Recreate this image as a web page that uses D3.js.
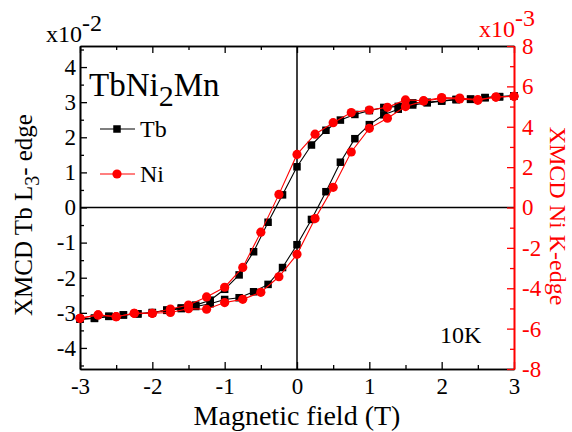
<!DOCTYPE html>
<html>
<head>
<meta charset="utf-8">
<script src="https://cdn.jsdelivr.net/npm/d3@7"></script>
<style>
  html, body { margin: 0; padding: 0; background: #fff; }
  svg { display: block; font-family: "Liberation Serif", "Times New Roman", serif; }
</style>
</head>
<body>
<svg id="chart" width="572" height="432"></svg>
<script>
// Applied field (T) for each sample
const tbField = [-3.0,-2.8,-2.6,-2.4,-2.2,-2.0,-1.8,-1.6,-1.4,-1.2,-1.0,-0.8,-0.6,-0.4,-0.2,0.0,0.2,0.4,0.6,0.8,1.0,1.2,1.4,1.6,1.8,2.0,2.2,2.4,2.6,2.8,3.0];
// Tb L3-edge XMCD (x10^-2), field sweeping down and up
const tbDescending = [-3.18,-3.15,-3.10,-3.06,-3.03,-2.99,-2.92,-2.86,-2.78,-2.64,-2.33,-1.92,-1.26,-0.42,0.36,1.16,1.78,2.20,2.49,2.65,2.76,2.85,2.88,2.98,3.00,3.04,3.08,3.09,3.13,3.16,3.18];
const tbAscending  = [-3.18,-3.16,-3.10,-3.06,-3.03,-3.00,-2.93,-2.88,-2.82,-2.74,-2.62,-2.57,-2.40,-2.19,-1.71,-1.06,-0.34,0.45,1.29,1.96,2.36,2.64,2.80,2.92,2.98,3.03,3.07,3.08,3.13,3.15,3.18];

const niField = [-3.0,-2.75,-2.5,-2.25,-2.0,-1.75,-1.5,-1.25,-1.0,-0.75,-0.5,-0.25,0.0,0.25,0.5,0.75,1.0,1.25,1.5,1.75,2.0,2.25,2.5,2.75,3.0];
// Ni K-edge XMCD (x10^-3), field sweeping down and up
const niDescending = [-5.49,-5.32,-5.41,-5.24,-5.24,-5.03,-4.83,-4.43,-3.95,-2.97,-1.22,0.65,2.63,3.63,4.20,4.70,4.83,4.96,5.33,5.29,5.45,5.42,5.35,5.47,5.51];
const niAscending  = [-5.49,-5.32,-5.41,-5.24,-5.24,-5.20,-5.01,-5.04,-4.71,-4.55,-4.20,-3.43,-2.32,-0.55,1.00,2.75,3.92,4.42,5.00,5.27,5.40,5.38,5.31,5.47,5.51];

const xMajor = [-3,-2,-1,0,1,2,3];
const xMinor = [-2.5,-1.5,-0.5,0.5,1.5,2.5];
const yLeftMajor = [-4,-3,-2,-1,0,1,2,3,4];
const yLeftMinor = [-4.5,-3.5,-2.5,-1.5,-0.5,0.5,1.5,2.5,3.5,4.5];
const yRightMajor = [-8,-6,-4,-2,0,2,4,6,8];
const yRightMinor = [-7,-5,-3,-1,1,3,5,7];

const RED = "#ff0000";
const W = 572, H = 432;
const m = { left: 80, right: 58, top: 46, bottom: 63 };

const svg = d3.select("#chart");
const x = d3.scaleLinear().domain([-3, 3]).range([m.left, W - m.right]);
const yL = d3.scaleLinear().domain([-4.6, 4.6]).range([H - m.bottom, m.top]);
const yR = d3.scaleLinear().domain([-8, 8]).range([H - m.bottom, m.top]);

const fmt = d => String(d);
const tickFont = 23;

function styleAxis(g, color) {
  g.selectAll(".domain").attr("stroke", color).attr("stroke-width", 1.6);
  g.selectAll(".tick line").attr("stroke", color).attr("stroke-width", 1.3);
  g.selectAll(".tick text").attr("fill", color)
    .style("font-family", "Liberation Serif").style("font-size", tickFont + "px");
}

// zero reference lines
svg.append("line").attr("x1", x(-3)).attr("x2", x(3)).attr("y1", yL(0)).attr("y2", yL(0))
  .attr("stroke", "#000").attr("stroke-width", 1.5);
svg.append("line").attr("x1", x(0)).attr("x2", x(0)).attr("y1", yL(-4.6)).attr("y2", yL(4.6))
  .attr("stroke", "#000").attr("stroke-width", 1.5);

// bottom axis
const gB = svg.append("g").attr("transform", `translate(0,${H - m.bottom})`);
gB.call(d3.axisBottom(x).tickValues(xMajor).tickFormat(fmt).tickSizeInner(-7).tickSizeOuter(0).tickPadding(9));
styleAxis(gB, "#000");
const gBm = svg.append("g").attr("transform", `translate(0,${H - m.bottom})`);
gBm.call(d3.axisBottom(x).tickValues(xMinor).tickFormat("").tickSizeInner(-4).tickSizeOuter(0));
styleAxis(gBm, "#000");

// top axis
const gT = svg.append("g").attr("transform", `translate(0,${m.top})`);
gT.call(d3.axisTop(x).tickValues(xMajor).tickFormat("").tickSizeInner(-7).tickSizeOuter(0));
styleAxis(gT, "#000");
const gTm = svg.append("g").attr("transform", `translate(0,${m.top})`);
gTm.call(d3.axisTop(x).tickValues(xMinor).tickFormat("").tickSizeInner(-4).tickSizeOuter(0));
styleAxis(gTm, "#000");

// left axis
const gL = svg.append("g").attr("transform", `translate(${m.left},0)`);
gL.call(d3.axisLeft(yL).tickValues(yLeftMajor).tickFormat(fmt).tickSizeInner(-7).tickSizeOuter(0).tickPadding(4));
styleAxis(gL, "#000");
const gLm = svg.append("g").attr("transform", `translate(${m.left},0)`);
gLm.call(d3.axisLeft(yL).tickValues(yLeftMinor).tickFormat("").tickSizeInner(-4).tickSizeOuter(0));
styleAxis(gLm, "#000");

// right axis (Ni scale)
const gR = svg.append("g").attr("transform", `translate(${W - m.right},0)`);
gR.call(d3.axisRight(yR).tickValues(yRightMajor).tickFormat(fmt).tickSizeInner(-7).tickSizeOuter(0).tickPadding(8));
styleAxis(gR, RED);
const gRm = svg.append("g").attr("transform", `translate(${W - m.right},0)`);
gRm.call(d3.axisRight(yR).tickValues(yRightMinor).tickFormat("").tickSizeInner(-4).tickSizeOuter(0));
styleAxis(gRm, RED);

// data
const tbLine = d3.line().x(d => x(d[0])).y(d => yL(d[1]));
const niLine = d3.line().x(d => x(d[0])).y(d => yR(d[1]));

const tbBranches = [d3.zip(tbField, tbDescending), d3.zip(tbField, tbAscending)];
const niBranches = [d3.zip(niField, niDescending), d3.zip(niField, niAscending)];

const sq = 7.5;
tbBranches.forEach(pts => {
  svg.append("path").attr("d", tbLine(pts)).attr("fill", "none").attr("stroke", "#000").attr("stroke-width", 1.1);
});
tbBranches.forEach(pts => {
  svg.append("g").selectAll("rect").data(pts).join("rect")
    .attr("x", d => x(d[0]) - sq / 2).attr("y", d => yL(d[1]) - sq / 2)
    .attr("width", sq).attr("height", sq).attr("fill", "#000");
});
niBranches.forEach(pts => {
  svg.append("path").attr("d", niLine(pts)).attr("fill", "none").attr("stroke", RED).attr("stroke-width", 1.1);
});
niBranches.forEach(pts => {
  svg.append("g").selectAll("circle").data(pts).join("circle")
    .attr("cx", d => x(d[0])).attr("cy", d => yR(d[1])).attr("r", 4.6).attr("fill", RED);
});

// axis multipliers
const mulL = svg.append("text").attr("x", 46).attr("y", 42).style("font-size", "24px").attr("fill", "#000");
mulL.append("tspan").text("x10");
mulL.append("tspan").attr("dy", -11).text("-2");
const mulR = svg.append("text").attr("x", 479).attr("y", 37).style("font-size", "24px").attr("fill", RED);
mulR.append("tspan").text("x10");
mulR.append("tspan").attr("dy", -11).text("-3");

// axis titles
svg.append("text").attr("x", (x(-3) + x(3)) / 2).attr("y", 425).attr("text-anchor", "middle")
  .style("font-size", "28px").attr("fill", "#000").text("Magnetic field (T)");

const tl = svg.append("text").attr("transform", "translate(32,215) rotate(-90)")
  .attr("text-anchor", "middle").style("font-size", "25px").attr("fill", "#000");
tl.append("tspan").text("XMCD Tb L");
tl.append("tspan").attr("dy", 7).style("font-size", "20px").text("3");
tl.append("tspan").attr("dy", -7).text("- edge");

svg.append("text").attr("transform", "translate(550,216) rotate(90)")
  .attr("text-anchor", "middle").style("font-size", "24px").attr("fill", RED).text("XMCD Ni K-edge");

// compound label
const ttl = svg.append("text").attr("x", 89).attr("y", 96).style("font-size", "33px").attr("fill", "#000");
ttl.append("tspan").text("TbNi");
ttl.append("tspan").attr("dy", 10).style("font-size", "30px").text("2");
ttl.append("tspan").attr("dy", -10).text("Mn");

// legend
const legend = [
  { name: "Tb", y: 129, color: "#000", shape: "square" },
  { name: "Ni", y: 174, color: RED, shape: "circle" }
];
legend.forEach(it => {
  svg.append("line").attr("x1", 100).attr("x2", 135).attr("y1", it.y).attr("y2", it.y)
    .attr("stroke", it.color).attr("stroke-width", 1.1);
  if (it.shape === "square") {
    svg.append("rect").attr("x", 117 - sq / 2).attr("y", it.y - sq / 2).attr("width", sq).attr("height", sq).attr("fill", it.color);
  } else {
    svg.append("circle").attr("cx", 117).attr("cy", it.y).attr("r", 4.6).attr("fill", it.color);
  }
  svg.append("text").attr("x", 140).attr("y", it.y + 8).style("font-size", "24px").attr("fill", "#000").text(it.name);
});

// temperature note
svg.append("text").attr("x", 440).attr("y", 343).style("font-size", "24px").attr("fill", "#000").text("10K");
</script>
</body>
</html>
